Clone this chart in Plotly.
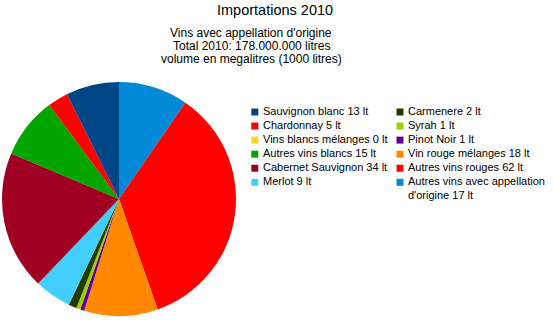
import plotly.graph_objects as go
import textwrap

W, H = 554, 321

title = "Importations 2010"
subtitle_lines = [
    "Vins avec appellation d'origine",
    "Total 2010: 178.000.000 litres",
    "volume en megalitres (1000 litres)",
]

names = [
    "Sauvignon blanc",
    "Chardonnay",
    "Vins blancs mélanges",
    "Autres vins blancs",
    "Cabernet Sauvignon",
    "Merlot",
    "Carmenere",
    "Syrah",
    "Pinot Noir",
    "Vin rouge mélanges",
    "Autres vins rouges",
    "Autres vins avec appellation d'origine",
]
values = [13, 5, 0, 15, 34, 9, 2, 1, 1, 18, 62, 17]
unit = "lt"
colors = [
    "#004586", "#ff0000", "#ffd320", "#00a500", "#a00022", "#42cfff",
    "#1f3d00", "#9acf00", "#660099", "#ff8800", "#ff0000", "#0089d6",
]

FONT = "Liberation Sans, Arial, Helvetica, sans-serif"

labels = [f"{n} {v} {unit}" for n, v in zip(names, values)]
rows_per_col = 6

fig = go.Figure()

# slices run counterclockwise from 12 o'clock in the original:
# equivalent to clockwise drawing of the reversed series
fig.add_trace(go.Pie(
    labels=names[::-1],
    values=values[::-1],
    marker=dict(colors=colors[::-1], line=dict(width=0)),
    sort=False,
    direction="clockwise",
    rotation=0,
    textinfo="none",
    hoverinfo="label+value",
    showlegend=False,
    domain=dict(x=[2 / W, 236 / W], y=[(H - 316) / H, (H - 82) / H]),
))

# legend drawn as a two-column key on hidden axes
cols = [i // rows_per_col for i in range(len(names))]
rows = [i % rows_per_col for i in range(len(names))]
fig.add_trace(go.Scatter(
    x=cols, y=rows, mode="markers",
    marker=dict(symbol="square", size=7, color=colors, line=dict(width=0)),
    hoverinfo="skip", showlegend=False, cliponaxis=False,
))

annotations = []
for lab, c, r in zip(labels, cols, rows):
    annotations.append(dict(
        text="<br>".join(textwrap.wrap(lab, 28)),
        x=c, y=r, xref="x", yref="y",
        xanchor="left", yanchor="top", xshift=6, yshift=9,
        align="left", showarrow=False,
        font=dict(family=FONT, size=11, color="#000000"),
    ))

annotations.append(dict(
    text=title, x=275 / W, y=1 - 9.7 / H, xref="paper", yref="paper",
    xanchor="center", yanchor="middle", showarrow=False,
    font=dict(family=FONT, size=14.5, color="#000000"),
))
for k, line in enumerate(subtitle_lines):
    annotations.append(dict(
        text=line, x=251 / W, y=1 - (33.2 + 12.7 * k) / H,
        xref="paper", yref="paper",
        xanchor="center", yanchor="middle", showarrow=False,
        borderpad=0, borderwidth=0,
        font=dict(family=FONT, size=12, color="#000000"),
    ))

fig.update_layout(
    width=W, height=H,
    margin=dict(l=0, r=0, t=0, b=0),
    paper_bgcolor="white", plot_bgcolor="white",
    xaxis=dict(domain=[254.8 / W, 400 / W], range=[0, 1], visible=False, fixedrange=True),
    yaxis=dict(domain=[(H - 182.3) / H, (H - 112) / H], range=[5, 0], visible=False, fixedrange=True),
    annotations=annotations,
    showlegend=False,
)

fig.write_html("out.html")
